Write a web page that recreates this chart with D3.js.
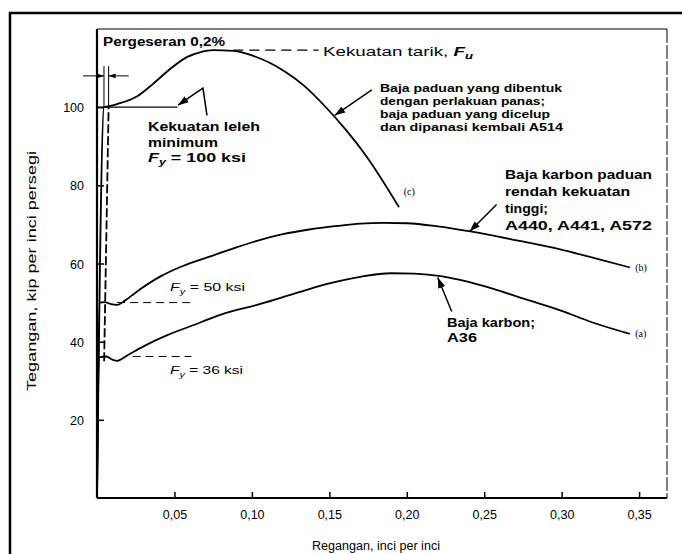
<!DOCTYPE html>
<html lang="id">
<head>
<meta charset="UTF-8">
<title>Kurva tegangan-regangan baja</title>
<script src="https://d3js.org/d3.v7.min.js"></script>
<style>
  body { margin: 0; background: #fff; }
  svg { display: block; font-family: "Liberation Sans", Arial, sans-serif; }
</style>
</head>
<body>
<div id="chart"></div>
<script>
// kurva tegangan-regangan: [regangan, tegangan (ksi)]
const curveA = [[0, 0], [0.0012, 36], [0.006, 36.2], [0.010, 35.4], [0.013, 35.1], [0.020, 36.6],
  [0.030, 38.8], [0.045, 41.6], [0.062, 44.2], [0.080, 46.9], [0.105, 49.6], [0.130, 52.6],
  [0.150, 54.9], [0.170, 56.6], [0.190, 57.5], [0.205, 57.4], [0.223, 56.7], [0.250, 54.2],
  [0.277, 50.8], [0.300, 47.9], [0.320, 44.9], [0.344, 42.0]];
const curveB = [[0, 0], [0.0017, 50], [0.005, 50.1], [0.009, 49.6], [0.013, 49.4], [0.018, 50.5],
  [0.025, 52.6], [0.041, 56.7], [0.055, 59.3], [0.073, 61.8], [0.090, 64.1], [0.105, 66.0],
  [0.120, 67.5], [0.137, 68.7], [0.155, 69.6], [0.170, 70.2], [0.185, 70.4], [0.200, 70.3],
  [0.220, 69.5], [0.241, 68.2], [0.270, 66.0], [0.299, 63.6], [0.320, 61.5], [0.344, 59.0]];
const curveC = [[0, 0], [0.0045, 100], [0.007, 100.2], [0.013, 100.8], [0.026, 102.8], [0.036, 105.9],
  [0.047, 109.7], [0.058, 112.8], [0.067, 114.1], [0.075, 114.6], [0.088, 114.4], [0.101, 113.1],
  [0.121, 109.2], [0.134, 105.4], [0.147, 100.3], [0.160, 94.5], [0.174, 87.4], [0.195, 74.4]];

const xTicks = [0.05, 0.10, 0.15, 0.20, 0.25, 0.30, 0.35];
const yTicks = [20, 40, 60, 80, 100];

// garis bantu (regangan, tegangan)
const offsetLine = [[0.0046, 35], [0.0075, 100]];
const yieldLineC = [[0, 100], [0.052, 100]];
const yieldDashB = [[0.013, 50], [0.060, 50]];
const yieldDashA = [[0.023, 36.2], [0.061, 36.2]];
const tensileDash = [[0.088, 114.6], [0.143, 114.6]];
const leaderC = [[0.1774, 104.4], [0.1535, 97.9]];
const leaderB = [[0.258, 75.1], [0.2406, 68.2]];
const leaderA = [[0.229, 47.7], [0.220, 56.4]];
const leaderFy = [[0.071, 97.9], [0.0684, 104.9], [0.0523, 100.5]];

const W = 682, H = 554;
const svg = d3.select("#chart").append("svg").attr("width", W).attr("height", H);

const x = d3.scaleLinear().domain([0, 0.368]).range([97, 667]);
const y = d3.scaleLinear().domain([0, 120]).range([498, 29]);

// bingkai luar
svg.append("rect").attr("x", 10).attr("y", 13).attr("width", 720).attr("height", 600)
  .attr("fill", "none").attr("stroke", "#000").attr("stroke-width", 2.5);

// bingkai plot
svg.append("line").attr("x1", x(0)).attr("x2", x(0.368)).attr("y1", y(120)).attr("y2", y(120))
  .attr("stroke", "#000").attr("stroke-width", 1);
svg.append("line").attr("x1", x(0.368)).attr("x2", x(0.368)).attr("y1", y(120)).attr("y2", y(0))
  .attr("stroke", "#000").attr("stroke-width", 1).attr("stroke-dasharray", "14,2");

const xAxis = svg.append("g").attr("transform", `translate(0,${y(0)})`)
  .call(d3.axisBottom(x).tickValues(xTicks).tickSize(-6).tickPadding(12)
    .tickFormat(d => d3.format(".2f")(d).replace(".", ",")));
const yAxis = svg.append("g").attr("transform", `translate(${x(0)},0)`)
  .call(d3.axisLeft(y).tickValues(yTicks).tickSize(-7).tickPadding(13));
[xAxis, yAxis].forEach(g => {
  g.selectAll("text").attr("font-size", 12.5).attr("font-family", "Liberation Sans, Arial, sans-serif").attr("fill", "#000");
  g.selectAll(".tick line").attr("stroke-width", 1.5);
});
xAxis.select(".domain").attr("stroke-width", 1.8).attr("d", `M${x(0)},0H${x(0.368)}`);
yAxis.select(".domain").attr("stroke-width", 2.2).attr("d", `M0,${y(0)}V${y(120)}`);
yAxis.selectAll("text").attr("dy", "0.36em");
xAxis.selectAll("text").attr("dy", "0.71em");

// kurva
const line = d3.line().x(d => x(d[0])).y(d => y(d[1]));
const smooth = d3.line().x(d => x(d[0])).y(d => y(d[1])).curve(d3.curveMonotoneX);
[curveA, curveB, curveC].forEach(c => {
  svg.append("path").attr("d", smooth(c)).attr("fill", "none").attr("stroke", "#000")
    .attr("stroke-width", 1.8).attr("stroke-linejoin", "round");
});

// garis bantu
const guide = (pts, w, dash) => svg.append("path").attr("d", line(pts)).attr("fill", "none")
  .attr("stroke", "#000").attr("stroke-width", w).attr("stroke-dasharray", dash || null);
guide(offsetLine, 1.8, "9,3");
guide(yieldLineC, 1.1);
guide(yieldDashB, 1, "8,5");
guide(yieldDashA, 1, "8,5");
guide(tensileDash, 1.2, "10,6");

// penanda pergeseran 0,2%
svg.append("defs").append("marker").attr("id", "arr").attr("viewBox", "0 0 10 10")
  .attr("refX", 10).attr("refY", 5).attr("markerWidth", 7).attr("markerHeight", 7)
  .attr("orient", "auto").append("path").attr("d", "M0,1.5L10,5L0,8.5Z").attr("fill", "#000");
guide([[0.0045, 100], [0.0045, 110.5]], 1);
guide([[0.0075, 100], [0.0075, 110.5]], 1);
guide([[-0.009, 108], [0.0045, 108]], 1).attr("marker-end", "url(#arr)");
guide([[0.0205, 108], [0.0075, 108]], 1).attr("marker-end", "url(#arr)");

[leaderC, leaderB, leaderA, leaderFy].forEach(l => guide(l, 1.5).attr("marker-end", "url(#arr)"));

// teks
function textBlock(px, py, lines, size, weight, gap) {
  lines.forEach((ln, i) => {
    const t = svg.append("text").attr("x", px).attr("y", py + i * gap)
      .attr("font-size", size).attr("font-weight", weight).attr("fill", "#000");
    ln.parts.forEach(p => {
      const s = t.append("tspan").text(p.t);
      if (p.i) s.attr("font-style", "italic");
      if (p.b) s.attr("font-weight", "bold");
      if (p.sub) s.attr("font-size", size * 0.7).attr("dy", 3);
      if (p.up) s.attr("dy", -3);
    });
    if (ln.w) t.attr("textLength", ln.w).attr("lengthAdjust", "spacingAndGlyphs");
  });
}
const plain = (s, w) => ({ parts: [{ t: s }], w });

textBlock(103, 46, [plain("Pergeseran 0,2%", 122)], 12, "bold", 0);
textBlock(323, 56, [{ parts: [{ t: "Kekuatan tarik, " }, { t: "F", i: 1, b: 1 }, { t: "u", i: 1, b: 1, sub: 1 }], w: 150 }], 12, "normal", 0);
textBlock(380, 92, [plain("Baja paduan yang dibentuk", 182), plain("dengan perlakuan panas;", 165),
  plain("baja paduan yang dicelup", 170), plain("dan dipanasi kembali A514", 183)], 11.5, "bold", 13);
textBlock(148, 131, [plain("Kekuatan leleh", 112), plain("minimum", 70),
  { parts: [{ t: "F", i: 1 }, { t: "y", i: 1, sub: 1 }, { t: " = 100 ksi", up: 1 }], w: 98 }], 13, "bold", 15.5);
textBlock(505, 179, [plain("Baja karbon paduan", 147), plain("rendah kekuatan", 125),
  plain("tinggi;", 43), plain("A440, A441, A572", 147)], 12, "bold", 17);
textBlock(447, 327, [plain("Baja karbon;", 88), plain("A36", 30)], 12, "bold", 15);
textBlock(170, 291, [{ parts: [{ t: "F", i: 1 }, { t: "y", i: 1, sub: 1 }, { t: " = 50 ksi", up: 1 }], w: 75 }], 11.5, "normal", 0);
textBlock(170, 374, [{ parts: [{ t: "F", i: 1 }, { t: "y", i: 1, sub: 1 }, { t: " = 36 ksi", up: 1 }], w: 73 }], 11.5, "normal", 0);

svg.selectAll(".curveTag").data([["(c)", 0.198, 78.5], ["(b)", 0.3475, 59], ["(a)", 0.3475, 42]])
  .enter().append("text").attr("class", "curveTag")
  .attr("x", d => x(d[1])).attr("y", d => y(d[2])).attr("dy", "0.35em")
  .attr("font-family", "Liberation Serif, serif").attr("font-size", 10).text(d => d[0]);

// judul sumbu
svg.append("text").attr("transform", "translate(36,271) rotate(-90)").attr("text-anchor", "middle")
  .attr("font-size", 12.5).attr("textLength", 240).attr("lengthAdjust", "spacingAndGlyphs")
  .text("Tegangan, kip per inci persegi");
svg.append("text").attr("x", 376).attr("y", 550).attr("text-anchor", "middle")
  .attr("font-size", 12.5).attr("textLength", 128).attr("lengthAdjust", "spacingAndGlyphs")
  .text("Regangan, inci per inci");
</script>
</body>
</html>
